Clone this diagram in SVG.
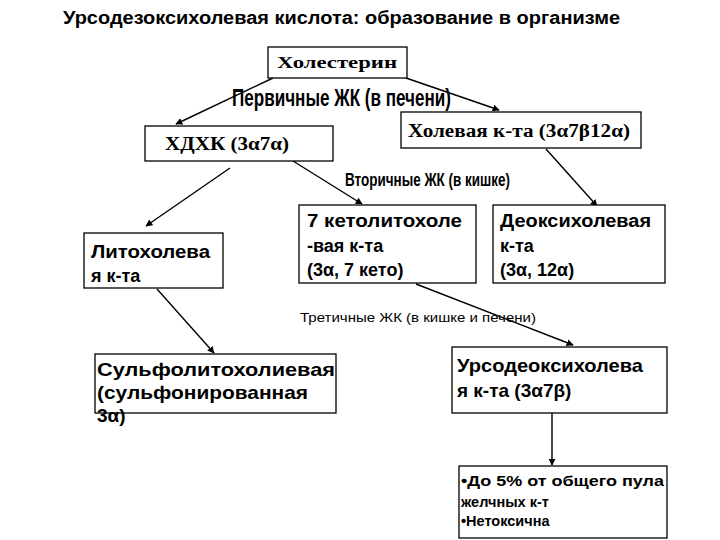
<svg xmlns="http://www.w3.org/2000/svg" width="720" height="540" viewBox="0 0 720 540">
<style>
.box{fill:#fff;stroke:#000;stroke-width:1.3}
.sans{font-family:"Liberation Sans",Arial,sans-serif;font-weight:bold;fill:#000}
.serif{font-family:"Liberation Serif","Times New Roman",serif;font-weight:bold;fill:#000}
.edge{stroke:#000;stroke-width:1.4;fill:none;marker-end:url(#ah)}
</style>
<defs>
<marker id="ah" viewBox="0 0 10 10" refX="9" refY="5" markerWidth="7" markerHeight="7" markerUnits="userSpaceOnUse" orient="auto">
<path d="M0,0 L10,5 L0,10 z" fill="#000"/>
</marker>
</defs>
<rect width="720" height="540" fill="#fff"/>
<text class="sans" x="63" y="24" font-size="18" textLength="557" lengthAdjust="spacingAndGlyphs">Урсодезоксихолевая кислота: образование в организме</text>

<g id="connectors">
<line class="edge" x1="273" y1="78" x2="176" y2="124"/>
<line class="edge" x1="406" y1="78" x2="499" y2="110"/>
<line class="edge" x1="230" y1="168" x2="146" y2="226"/>
<line class="edge" x1="293" y1="161" x2="362" y2="204"/>
<line class="edge" x1="546" y1="149" x2="597" y2="206"/>
<line class="edge" x1="157" y1="289" x2="214" y2="353"/>
<line class="edge" x1="416" y1="284" x2="573" y2="345"/>
<line class="edge" x1="552" y1="413" x2="552" y2="465"/>
</g>

<g id="labels">
<text class="sans" x="232" y="106" font-size="23" textLength="219" lengthAdjust="spacingAndGlyphs">Первичные ЖК (в печени)</text>
<text class="sans" x="345" y="186" font-size="19" textLength="165" lengthAdjust="spacingAndGlyphs">Вторичные ЖК (в кишке)</text>
<text x="300" y="322" font-family="Liberation Sans,Arial,sans-serif" font-size="12" textLength="236" lengthAdjust="spacingAndGlyphs" fill="#000">Третичные ЖК (в кишке и печени)</text>
</g>

<g id="cholesterol">
<rect class="box" x="268" y="47" width="139" height="31"/>
<text class="serif" x="277" y="68" font-size="16" textLength="120" lengthAdjust="spacingAndGlyphs">Холестерин</text>
</g>

<g id="hdhk">
<rect class="box" x="145" y="126" width="188" height="35"/>
<text class="serif" x="165" y="150" font-size="18" textLength="124" lengthAdjust="spacingAndGlyphs">ХДХК (3α7α)</text>
</g>

<g id="cholic">
<rect class="box" x="401" y="112" width="240" height="36"/>
<text class="serif" x="408" y="137" font-size="18" textLength="222" lengthAdjust="spacingAndGlyphs">Холевая к-та (3α7β12α)</text>
</g>

<g id="litho">
<rect class="box" x="84" y="233" width="139" height="55"/>
<text class="sans" x="91" y="258" font-size="18" textLength="119" lengthAdjust="spacingAndGlyphs">Литохолева</text>
<text class="sans" x="91" y="282" font-size="18">я к-та</text>
</g>

<g id="ketolitho">
<rect class="box" x="299" y="205" width="177" height="78"/>
<text class="sans" x="307" y="227" font-size="18" textLength="155" lengthAdjust="spacingAndGlyphs">7 кетолитохоле</text>
<text class="sans" x="307" y="252" font-size="18">-вая к-та</text>
<text class="sans" x="307" y="276" font-size="18">(3α, 7 кето)</text>
</g>

<g id="deoxy">
<rect class="box" x="493" y="205" width="172" height="78"/>
<text class="sans" x="500" y="227" font-size="18" textLength="151" lengthAdjust="spacingAndGlyphs">Деоксихолевая</text>
<text class="sans" x="500" y="252" font-size="18">к-та</text>
<text class="sans" x="500" y="276" font-size="18">(3α, 12α)</text>
</g>

<g id="sulfo">
<rect class="box" x="95" y="354" width="241" height="59"/>
<text class="sans" x="97" y="376" font-size="19" textLength="238" lengthAdjust="spacingAndGlyphs">Сульфолитохолиевая</text>
<text class="sans" x="97" y="399" font-size="19" textLength="211" lengthAdjust="spacingAndGlyphs">(сульфонированная</text>
<text class="sans" x="97" y="422" font-size="19">3α)</text>
</g>

<g id="urso">
<rect class="box" x="452" y="347" width="215" height="66"/>
<text class="sans" x="457" y="372" font-size="19" textLength="186" lengthAdjust="spacingAndGlyphs">Урсодеоксихолева</text>
<text class="sans" x="457" y="397" font-size="19">я к-та (3α7β)</text>
</g>

<g id="notes">
<rect class="box" x="459" y="466" width="208" height="72"/>
<text class="sans" x="461" y="486" font-size="14.5" textLength="203" lengthAdjust="spacingAndGlyphs">•До 5% от общего пула</text>
<text class="sans" x="461" y="507" font-size="14.5">желчных к-т</text>
<text class="sans" x="461" y="526" font-size="14.5">•Нетоксична</text>
</g>
</svg>
